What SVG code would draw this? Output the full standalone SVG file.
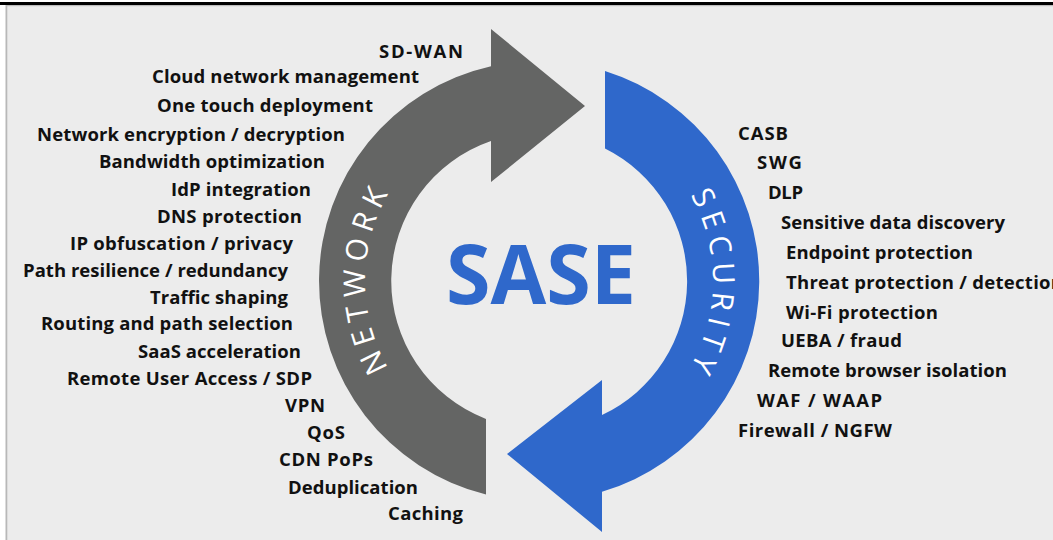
<svg xmlns="http://www.w3.org/2000/svg" width="1053" height="540" viewBox="0 0 1053 540">
  <style>
    .item { font-family: "Open Sans", "Noto Sans", "Liberation Sans", sans-serif; font-weight: 700; font-size: 18.5px; fill: #111111; }
    .ring-label { font-family: "Open Sans", "Noto Sans", "Liberation Sans", sans-serif; font-weight: 400; font-size: 30px; fill: #ffffff; }
    .title { font-family: "Open Sans", "Noto Sans", "Liberation Sans", sans-serif; font-weight: 700; font-size: 83px; fill: #2f68cb; }
  </style>
  <defs>
    <!-- baselines for the ring captions (radius 174 around 539,281) -->
    <path id="network-baseline" d="M452,431.7 A174,174 0 0 1 452,130.3"/>
    <path id="security-baseline" d="M626,130.3 A174,174 0 0 1 626,431.7"/>
  </defs>

  <!-- page and panel -->
  <rect x="0" y="0" width="1053" height="540" fill="#ffffff"/>
  <rect x="0" y="2" width="1053" height="3" fill="#000000"/>
  <rect x="6" y="5" width="1047" height="535" fill="#ececec"/>
  <rect x="6" y="5" width="1047" height="1.2" fill="#bdbdbd"/>
  <rect x="5.5" y="5" width="1.8" height="535" fill="#b8b8b8"/>

  <!-- cycle arrows -->
  <g id="connectors">
    <path id="network-arrow" fill="#646564"
          d="M486,494.5 A220,220 0 0 1 491,66.3 L491,29 L585,106 L491,182 L491,141 A148,148 0 0 0 486,419 Z"/>
    <path id="security-arrow" fill="#2f68cb"
          d="M605,71 A220,220 0 0 1 602,491.8 L602,532 L507,454 L602,380 L602,415 A148,148 0 0 0 605,148.5 Z"/>
  </g>

  <g id="network-label">
    <text class="ring-label"><textPath href="#network-baseline" startOffset="50%" text-anchor="middle" textLength="182" lengthAdjust="spacing">NETWORK</textPath></text>
  </g>
  <g id="security-label">
    <text class="ring-label"><textPath href="#security-baseline" startOffset="50%" text-anchor="middle" textLength="180" lengthAdjust="spacing">SECURITY</textPath></text>
  </g>

  <g id="sase">
    <text class="title" x="541" y="304" text-anchor="middle" textLength="190" lengthAdjust="spacingAndGlyphs">SASE</text>
  </g>

  <!-- network capabilities -->
  <g id="network-items">
    <text class="item" x="379" y="58" textLength="84">SD-WAN</text>
    <text class="item" x="152" y="82.5" textLength="267">Cloud network management</text>
    <text class="item" x="157" y="112" textLength="216">One touch deployment</text>
    <text class="item" x="37" y="141" textLength="308">Network encryption / decryption</text>
    <text class="item" x="99" y="168" textLength="226">Bandwidth optimization</text>
    <text class="item" x="171" y="196" textLength="140">IdP integration</text>
    <text class="item" x="157" y="223" textLength="145">DNS protection</text>
    <text class="item" x="70" y="250" textLength="223">IP obfuscation / privacy</text>
    <text class="item" x="23" y="277" textLength="265">Path resilience / redundancy</text>
    <text class="item" x="150" y="303.5" textLength="138">Traffic shaping</text>
    <text class="item" x="41" y="330" textLength="252">Routing and path selection</text>
    <text class="item" x="138" y="357.5" textLength="163">SaaS acceleration</text>
    <text class="item" x="67" y="385" textLength="245">Remote User Access / SDP</text>
    <text class="item" x="285" y="412" textLength="40">VPN</text>
    <text class="item" x="307" y="439" textLength="38">QoS</text>
    <text class="item" x="279" y="466" textLength="94">CDN PoPs</text>
    <text class="item" x="288" y="493.5" textLength="130">Deduplication</text>
    <text class="item" x="388" y="520" textLength="75">Caching</text>
  </g>

  <!-- security capabilities -->
  <g id="security-items">
    <text class="item" x="738" y="139.5" textLength="50">CASB</text>
    <text class="item" x="757" y="169" textLength="45">SWG</text>
    <text class="item" x="768" y="199" textLength="35">DLP</text>
    <text class="item" x="781" y="228.5" textLength="224">Sensitive data discovery</text>
    <text class="item" x="786" y="259" textLength="187">Endpoint protection</text>
    <text class="item" x="786" y="288.5" textLength="277">Threat protection / detection</text>
    <text class="item" x="786" y="318.5" textLength="152">Wi-Fi protection</text>
    <text class="item" x="781" y="346.5" textLength="121">UEBA / fraud</text>
    <text class="item" x="768" y="377" textLength="239">Remote browser isolation</text>
    <text class="item" x="757" y="407" textLength="125">WAF / WAAP</text>
    <text class="item" x="738" y="436.5" textLength="154">Firewall / NGFW</text>
  </g>
</svg>
